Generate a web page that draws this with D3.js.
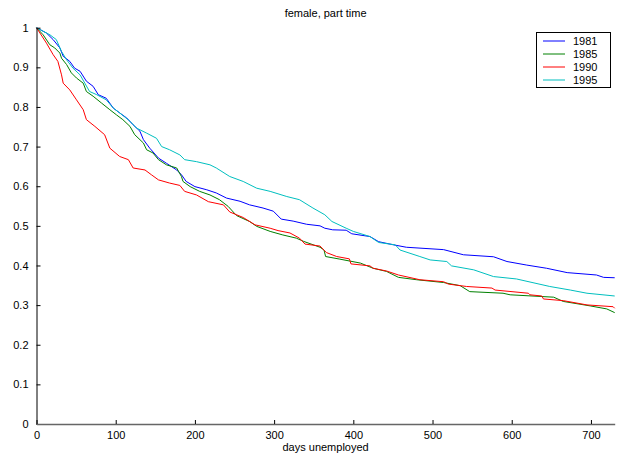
<!DOCTYPE html>
<html><head><meta charset="utf-8">
<script src="https://cdn.jsdelivr.net/npm/d3@7"></script>
<style>body{margin:0;background:#fff}svg{display:block}text{font-family:"Liberation Sans",Arial,sans-serif}</style>
</head><body><svg id="c" width="623" height="461"></svg>
<script>
const title = "female, part time";
const xLabel = "days unemployed";
const seriesNames = ["1981","1985","1990","1995"];
const seriesColors = ["#0000ff","#008000","#ff0000","#00bfbf"];
const xTicks = [0,100,200,300,400,500,600,700];
const yTicks = [0,0.1,0.2,0.3,0.4,0.5,0.6,0.7,0.8,0.9,1];

const days1981 = [0,12.6,21,29.5,33.7,42,48,55,63,71.5,78,88,97,105,114,122,130.5,135,143,154,164,177,183,189,200,215,227,240,257,269,286,299,309,324,341,358,364,374,391,398,421,432,451,467,514,539,577,594,619,644,670,707,716,730];
const vals1981 = [1,0.9865,0.970,0.949,0.928,0.915,0.898,0.890,0.865,0.852,0.831,0.822,0.797,0.785,0.772,0.755,0.739,0.7175,0.696,0.671,0.658,0.641,0.629,0.612,0.599,0.591,0.583,0.570,0.562,0.553,0.545,0.537,0.517,0.512,0.504,0.5,0.494,0.490,0.489,0.480,0.473,0.460,0.452,0.446,0.440,0.427,0.422,0.410,0.401,0.393,0.382,0.376,0.370,0.369];

const days1985 = [0,8.4,16.8,23,29.5,31.6,38,44,50.5,59,63,71.5,82,92.6,101,109,118,124,135,139,147,154,164,177,183,185,194,206,219,231,242,252.5,269,278,295,311,328,337,358,363,365,383,409,425,442,457,480,514,535,547,589,598,653,665,699,720,730];
const vals1985 = [1,0.982,0.957,0.949,0.936,0.923,0.907,0.886,0.873,0.860,0.839,0.827,0.810,0.793,0.780,0.768,0.751,0.730,0.709,0.692,0.684,0.667,0.654,0.646,0.6245,0.612,0.599,0.587,0.578,0.566,0.549,0.526,0.511,0.4987,0.486,0.477,0.469,0.461,0.446,0.439,0.4226,0.416,0.406,0.393,0.385,0.370,0.364,0.357,0.349,0.334,0.330,0.326,0.320,0.3093,0.298,0.2904,0.281];

const days1990 = [0,12.6,21,27,31.6,33.7,42,50.5,59,63,73.7,86,92.6,105,116,122,137,145,154,168,181,187,202,217,236,244,261,276,295,305,320,332,339,358,366,379,395,397,421,425,442,457,484,514,520,543,575,579,621,623,638,640,665,695,728,730];
const vals1990 = [1,0.961,0.932,0.915,0.881,0.860,0.843,0.818,0.793,0.768,0.751,0.730,0.696,0.675,0.667,0.646,0.641,0.629,0.616,0.608,0.602,0.587,0.578,0.561,0.553,0.535,0.521,0.5025,0.494,0.488,0.482,0.469,0.454,0.449,0.4326,0.4226,0.4167,0.404,0.399,0.393,0.386,0.376,0.364,0.359,0.353,0.347,0.343,0.338,0.330,0.326,0.323,0.3155,0.3113,0.3005,0.296,0.292];

const days1995 = [0,17,25,31.6,38,46,55,61,67,76,88,97,105,118,126,139,151.5,158,168,181,187,202,219,227,244,261,278,295,316,332,349,364,373,391,400,421,432,453,459,484,497,518,524,552,577,606,648,674,695,730];
const vals1995 = [1,0.982,0.970,0.940,0.919,0.898,0.881,0.860,0.839,0.831,0.818,0.797,0.785,0.764,0.747,0.734,0.721,0.700,0.692,0.679,0.667,0.662,0.654,0.646,0.6245,0.612,0.595,0.587,0.574,0.566,0.545,0.528,0.511,0.494,0.486,0.473,0.458,0.452,0.439,0.4226,0.414,0.410,0.399,0.389,0.372,0.366,0.347,0.338,0.330,0.323];

const allDays = [days1981, days1985, days1990, days1995];
const allVals = [vals1981, vals1985, vals1990, vals1995];

const svg = d3.select("#c");
const x = d3.scaleLinear().domain([0,730]).range([36.5,614.7]);
const y = d3.scaleLinear().domain([0,1]).range([424,27.7]);

// title
svg.append("text").attr("x",(36.5+614.7)/2).attr("y",17).attr("text-anchor","middle")
  .attr("font-size",11).text(title);

// lines
const line = d3.line().x(d=>x(d[0])).y(d=>y(d[1]));
allDays.forEach((ds,i)=>{
  const pts = ds.map((d,j)=>[d, allVals[i][j]]);
  svg.append("path").datum(pts).attr("d",line).attr("fill","none")
    .attr("stroke",seriesColors[i]).attr("stroke-width",1);
});

// y axis
const yAxis = d3.axisLeft(y).tickValues(yTicks).tickFormat(d=>d3.format("~g")(d)).tickSizeInner(-4).tickSizeOuter(0).tickPadding(8);
const gy = svg.append("g").attr("transform","translate(36.5,0)").call(yAxis);
gy.select(".domain").attr("stroke","#000");
gy.selectAll("line").attr("stroke","#000");
gy.selectAll("text").attr("font-size",11).attr("fill","#000").attr("font-family","Liberation Sans, Arial, sans-serif");

// x axis
const xAxis = d3.axisBottom(x).tickValues(xTicks).tickFormat(d3.format("d")).tickSizeInner(-4).tickSizeOuter(0).tickPadding(7);
const gx = svg.append("g").attr("transform","translate(0,424)").call(xAxis);
gx.select(".domain").attr("stroke","#666").attr("stroke-width",1.6);
gx.selectAll("line").attr("stroke","#000");
gx.selectAll("text").attr("font-size",11).attr("fill","#000").attr("font-family","Liberation Sans, Arial, sans-serif");

svg.append("text").attr("x",(36.5+614.7)/2).attr("y",451).attr("text-anchor","middle")
  .attr("font-size",11).text(xLabel);

// legend
const lg = svg.append("g");
lg.append("rect").attr("x",536.5).attr("y",32.5).attr("width",74).attr("height",55)
  .attr("fill","#fff").attr("stroke","#000").attr("stroke-width",1);
seriesNames.forEach((n,i)=>{
  const yy = 41 + i*13;
  lg.append("line").attr("x1",543).attr("x2",565).attr("y1",yy).attr("y2",yy)
    .attr("stroke",seriesColors[i]).attr("stroke-width",1);
  lg.append("text").attr("x",573).attr("y",yy+4).attr("font-size",11).text(n);
});
</script></body></html>
